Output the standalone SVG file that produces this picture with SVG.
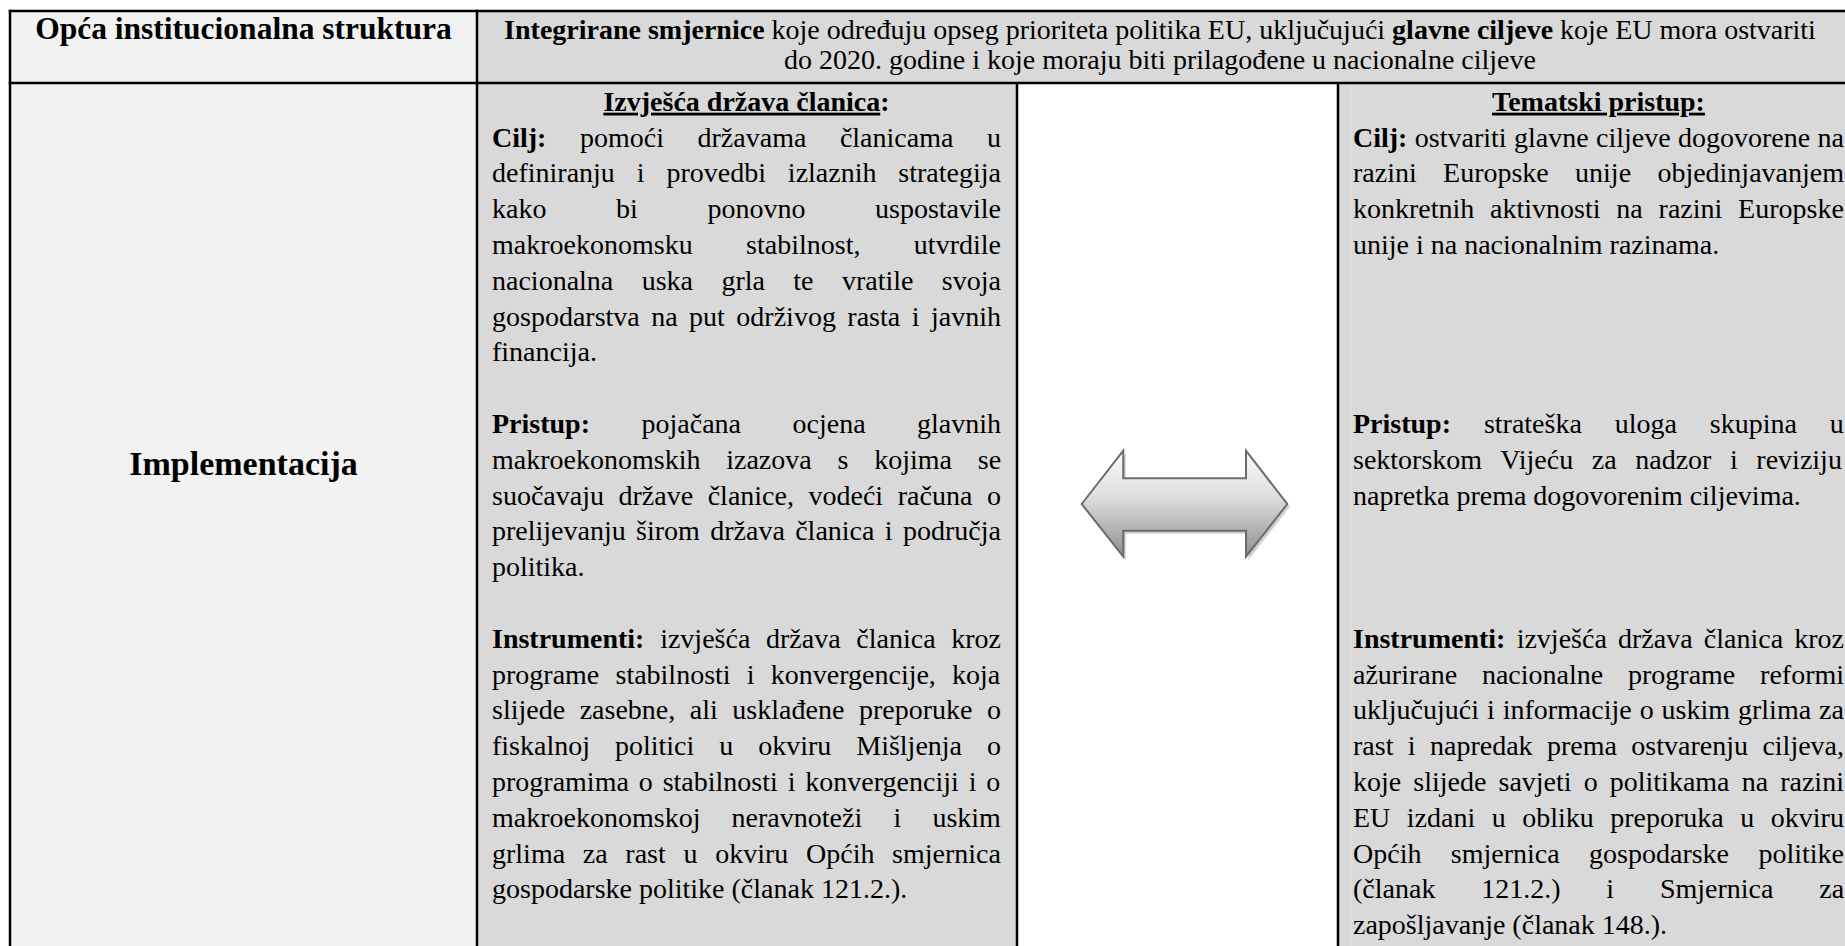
<svg xmlns="http://www.w3.org/2000/svg" width="1845" height="946" viewBox="0 0 1845 946">
<defs>
<linearGradient id="arrowGrad" x1="0" y1="0" x2="0" y2="1">
<stop offset="0" stop-color="#fbfbfb"/>
<stop offset="0.45" stop-color="#dcdcdc"/>
<stop offset="1" stop-color="#8e8e8e"/>
</linearGradient>
<style>
.t { font-family: "Liberation Serif", "Times New Roman", serif; font-size: 28px; fill: #000; }
.b { font-weight: bold; }
.big { font-size: 31.5px; font-weight: bold; }
.impl { font-size: 34px; font-weight: bold; }
.grid { stroke: #000; stroke-width: 2.5; fill: none; }
</style>
</defs>
<rect width="1845" height="946" fill="#ffffff"/>

<g id="cell-header-label">
<rect x="10" y="11" width="467" height="72" fill="#f2f2f2"/>
<text class="t big" x="243.5" y="38.5" text-anchor="middle">Opća institucionalna struktura</text>
</g>

<g id="cell-header-content">
<rect x="477" y="11" width="1371" height="72" fill="#d9d9d9"/>
<text class="t" x="1160" y="38.5" text-anchor="middle"><tspan class="b">Integrirane smjernice</tspan> koje određuju opseg prioriteta politika EU, uključujući <tspan class="b">glavne ciljeve</tspan> koje EU mora ostvariti</text>
<text class="t" x="1160" y="69" text-anchor="middle">do 2020. godine i koje moraju biti prilagođene u nacionalne ciljeve</text>
</g>

<g id="cell-implementacija">
<rect x="10" y="83" width="467" height="870" fill="#f2f2f2"/>
<text class="t impl" x="243.5" y="475" text-anchor="middle">Implementacija</text>
</g>

<g id="panel-izvjesca">
<rect x="477" y="83" width="540" height="870" fill="#d9d9d9"/>
<text class="t b" x="746.5" y="110.7" text-anchor="middle"><tspan text-decoration="underline">Izvješća država članica</tspan>:</text>
<text class="t" x="492" y="146.5" word-spacing="26.55"><tspan class="b">Cilj:</tspan> pomoći državama članicama u</text>
<text class="t" x="492" y="182.3" word-spacing="14.9">definiranju i provedbi izlaznih strategija</text>
<text class="t" x="492" y="218.1" word-spacing="62.6">kako bi ponovno uspostavile</text>
<text class="t" x="492" y="253.9" word-spacing="46.45">makroekonomsku stabilnost, utvrdile</text>
<text class="t" x="492" y="289.7" word-spacing="21.4">nacionalna uska grla te vratile svoja</text>
<text class="t" x="492" y="325.5" word-spacing="4.47">gospodarstva na put održivog rasta i javnih</text>
<text class="t" x="492" y="361.3">financija.</text>
<text class="t" x="492" y="432.9" word-spacing="44.5"><tspan class="b">Pristup:</tspan> pojačana ocjena glavnih</text>
<text class="t" x="492" y="468.7" word-spacing="18.8">makroekonomskih izazova s kojima se</text>
<text class="t" x="492" y="504.5" word-spacing="7.56">suočavaju države članice, vodeći računa o</text>
<text class="t" x="492" y="540.3" word-spacing="3.36">prelijevanju širom država članica i područja</text>
<text class="t" x="492" y="576.1">politika.</text>
<text class="t" x="492" y="647.7" word-spacing="8.7"><tspan class="b">Instrumenti:</tspan> izvješća država članica kroz</text>
<text class="t" x="492" y="683.5" word-spacing="9.2">programe stabilnosti i konvergencije, koja</text>
<text class="t" x="492" y="719.3" word-spacing="7.56">slijede zasebne, ali usklađene preporuke o</text>
<text class="t" x="492" y="755.1" word-spacing="17.96">fiskalnoj politici u okviru Mišljenja o</text>
<text class="t" x="492" y="790.9" word-spacing="2.9">programima o stabilnosti i konvergenciji i o</text>
<text class="t" x="492" y="826.7" word-spacing="24.2">makroekonomskoj neravnoteži i uskim</text>
<text class="t" x="492" y="862.5" word-spacing="10.7">grlima za rast u okviru Općih smjernica</text>
<text class="t" x="492" y="898.3">gospodarske politike (članak 121.2.).</text>
</g>

<g id="cell-middle">
<rect x="1017" y="83" width="321" height="870" fill="#ffffff"/>
</g>

<g id="panel-tematski">
<rect x="1338" y="83" width="510" height="870" fill="#d9d9d9"/>
<line x1="1351" y1="84" x2="1351" y2="946" stroke="#e6e6e6" stroke-width="1"/>
<text class="t b" x="1598.5" y="110.7" text-anchor="middle" text-decoration="underline">Tematski pristup:</text>
<text class="t" x="1353" y="146.5" word-spacing="0.38"><tspan class="b">Cilj:</tspan> ostvariti glavne ciljeve dogovorene na</text>
<text class="t" x="1353" y="182.3" word-spacing="19.3">razini Europske unije objedinjavanjem</text>
<text class="t" x="1353" y="218.1" word-spacing="8.8">konkretnih aktivnosti na razini Europske</text>
<text class="t" x="1353" y="253.9">unije i na nacionalnim razinama.</text>
<text class="t" x="1353" y="432.9" word-spacing="25.9"><tspan class="b">Pristup:</tspan> strateška uloga skupina u</text>
<text class="t" x="1353" y="468.7" word-spacing="11.6">sektorskom Vijeću za nadzor i reviziju</text>
<text class="t" x="1353" y="504.5">napretka prema dogovorenim ciljevima.</text>
<text class="t" x="1353" y="647.7" word-spacing="4.2"><tspan class="b">Instrumenti:</tspan> izvješća država članica kroz</text>
<text class="t" x="1353" y="683.5" word-spacing="17.8">ažurirane nacionalne programe reformi</text>
<text class="t" x="1353" y="719.3" word-spacing="0.95">uključujući i informacije o uskim grlima za</text>
<text class="t" x="1353" y="755.1" word-spacing="7.4">rast i napredak prema ostvarenju ciljeva,</text>
<text class="t" x="1353" y="790.9" word-spacing="5.1">koje slijede savjeti o politikama na razini</text>
<text class="t" x="1353" y="826.7" word-spacing="9.5">EU izdani u obliku preporuka u okviru</text>
<text class="t" x="1353" y="862.5" word-spacing="22.4">Općih smjernica gospodarske politike</text>
<text class="t" x="1353" y="898.3" word-spacing="38.8">(članak 121.2.) i Smjernica za</text>
<text class="t" x="1353" y="934.1">zapošljavanje (članak 148.).</text>
</g>

<g id="grid">
<line class="grid" x1="8.75" y1="11" x2="1848" y2="11"/>
<line class="grid" x1="8.75" y1="83" x2="1848" y2="83"/>
<line class="grid" x1="10" y1="9.75" x2="10" y2="950"/>
<line class="grid" x1="477" y1="9.75" x2="477" y2="950"/>
<line class="grid" x1="1017" y1="83" x2="1017" y2="950"/>
<line class="grid" x1="1338" y1="83" x2="1338" y2="950"/>
</g>

<g id="connectors">
<path d="M1084.2,507 L1125.8,453.7 L1125.8,481.3 L1248.5,481.3 L1248.5,453.7 L1289.8,507 L1248.5,559.7 L1248.5,533.7 L1125.8,533.7 L1125.8,559.7 Z" fill="#bdbdbd" opacity="0.7"/>
<path d="M1081.7,504 L1123.3,450.7 L1123.3,478.3 L1246,478.3 L1246,450.7 L1287.3,504 L1246,556.7 L1246,530.7 L1123.3,530.7 L1123.3,556.7 Z" fill="url(#arrowGrad)" stroke="#6b6b6b" stroke-width="2" stroke-linejoin="miter"/>
</g>
</svg>
